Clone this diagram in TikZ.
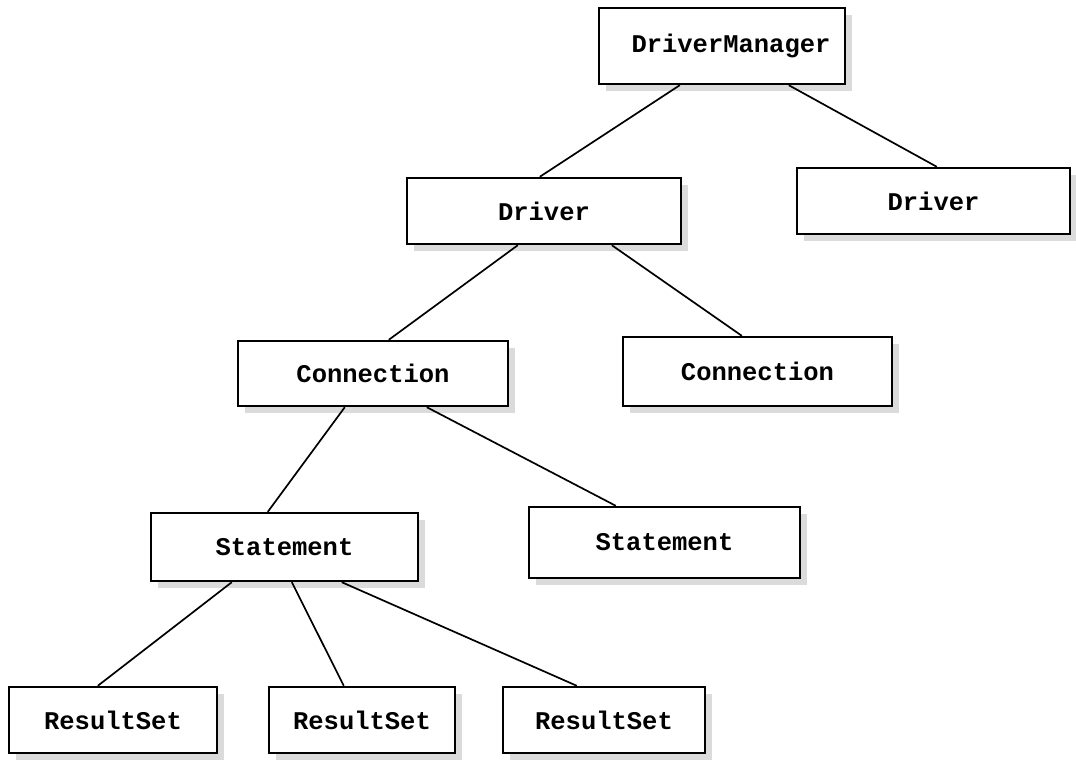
\documentclass[tikz,border=0pt]{standalone}
\usepackage{fontspec}
\setmonofont{Liberation Mono}
\usetikzlibrary{shadows}
\begin{document}
\begin{tikzpicture}[x=1pt,y=-1pt,
  box/.style={draw=black, line width=2.4pt, fill=white, inner sep=0pt,
    font=\ttfamily\bfseries\fontsize{25.5}{25.5}\selectfont,
    drop shadow={shadow xshift=7pt, shadow yshift=-7pt, fill=gray!28, opacity=1}},
  link/.style={draw=black, line width=1.7pt}]
\useasboundingbox (0,0) rectangle (1076,760);
\node[box, minimum width=246pt, minimum height=76pt] (dm) at (722,46) {\hspace*{18pt}DriverManager};
\node[box, minimum width=274pt, minimum height=66pt] (drvl) at (544,211) {Driver};
\node[box, minimum width=273pt, minimum height=66pt] (drvr) at (933.5,201) {Driver};
\node[box, minimum width=270pt, minimum height=65pt] (conl) at (373,373.5) {Connection};
\node[box, minimum width=269pt, minimum height=69pt] (conr) at (757.5,371.5) {Connection};
\node[box, minimum width=267pt, minimum height=68pt] (stl) at (284.5,547) {Statement};
\node[box, minimum width=271pt, minimum height=71pt] (str) at (664.5,542.5) {Statement};
\node[box, minimum width=208pt, minimum height=66pt] (rsa) at (113,720) {ResultSet};
\node[box, minimum width=186pt, minimum height=66pt] (rsb) at (362,720) {ResultSet};
\node[box, minimum width=202pt, minimum height=66pt] (rsc) at (604,720) {ResultSet};
\draw[link] ([xshift=82pt]dm.south west) -- ([xshift=134pt]drvl.north west);
\draw[link] ([xshift=191pt]dm.south west) -- ([xshift=141pt]drvr.north west);
\draw[link] ([xshift=112pt]drvl.south west) -- ([xshift=152pt]conl.north west);
\draw[link] ([xshift=206pt]drvl.south west) -- ([xshift=120pt]conr.north west);
\draw[link] ([xshift=108pt]conl.south west) -- ([xshift=118pt]stl.north west);
\draw[link] ([xshift=190pt]conl.south west) -- ([xshift=88pt]str.north west);
\draw[link] ([xshift=82pt]stl.south west) -- ([xshift=90pt]rsa.north west);
\draw[link] ([xshift=142pt]stl.south west) -- ([xshift=76pt]rsb.north west);
\draw[link] ([xshift=192pt]stl.south west) -- ([xshift=75pt]rsc.north west);
\end{tikzpicture}
\end{document}
